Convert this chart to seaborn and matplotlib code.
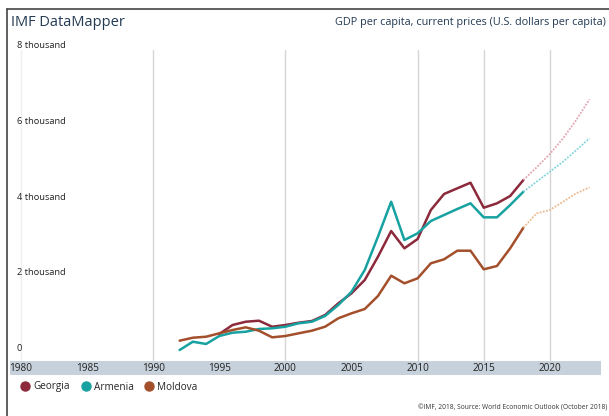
import pandas as pd
import matplotlib.pyplot as plt
import seaborn as sns
from matplotlib.lines import Line2D

years_ge = list(range(1995, 2024))
georgia = [502, 739, 826, 853, 694, 739, 800, 845, 1003, 1312, 1576, 1927, 2542, 3221,
           2764, 3010, 3775, 4198, 4348, 4496, 3836, 3952, 4145, 4567,
           4902, 5254, 5668, 6151, 6698]
years_am = list(range(1992, 2024))
armenia = [79, 298, 238, 449, 536, 562, 634, 652, 694, 784, 826, 977, 1267, 1618, 2191,
           3070, 3994, 2983, 3160, 3485, 3643, 3802, 3952, 3582, 3582, 3907, 4258,
           4522, 4786, 5050, 5359, 5668]
years_md = list(range(1992, 2024))
moldova = [325, 404, 430, 520, 607, 678, 589, 414, 449, 520, 589, 694, 916, 1048, 1162,
           1505, 2041, 1840, 1972, 2368, 2474, 2701, 2701, 2210, 2297, 2764, 3308,
           3688, 3775, 3994, 4216, 4374]
last_actual = 2018

countries = ['Georgia', 'Armenia', 'Moldova']
colors = {'Georgia': '#8c2a3c', 'Armenia': '#17a2a1', 'Moldova': '#a44f2b'}
proj_colors = {'Georgia': '#e3a6b0', 'Armenia': '#86d3dc', 'Moldova': '#eabb93'}

y_ticks = [0, 2000, 4000, 6000, 8000]
y_labels = ['0', '2 thousand', '4 thousand', '6 thousand', '8 thousand']
x_ticks = [1980, 1985, 1990, 1995, 2000, 2005, 2010, 2015, 2020]
grid_years = [1990, 2000, 2010, 2015, 2020]

# long table
frames = []
for name, yrs, vals in [('Georgia', years_ge, georgia), ('Armenia', years_am, armenia),
                        ('Moldova', years_md, moldova)]:
    frames.append(pd.DataFrame({'country': name, 'year': yrs, 'value': vals}))
df = pd.concat(frames, ignore_index=True)
actual = df[df['year'] <= last_actual]
proj = df[df['year'] >= last_actual]

sns.set_style('white')
plt.rcParams['font.family'] = ['Open Sans', 'DejaVu Sans']

W, H = 609, 416
fig = plt.figure(figsize=(W / 100, H / 100), dpi=100)
fig.patch.set_facecolor('white')

ax = fig.add_axes([10 / W, 55 / H, 591 / W, 311 / H])
ax.set_xlim(1979.17, 2023.87)
ax.set_ylim(-211, 8000)

# vertical gridlines
ax.axvline(1980, color='#efefef', lw=1, zorder=0)
for g in grid_years:
    ax.axvline(g, color='#d6d6d6', lw=1, zorder=0)

sns.lineplot(data=actual, x='year', y='value', hue='country', hue_order=countries,
             palette=colors, lw=1.8, estimator=None, legend=False, ax=ax)
sns.lineplot(data=proj, x='year', y='value', hue='country', hue_order=countries,
             palette=proj_colors, lw=1.3, linestyle=(0, (1, 0.8)), estimator=None,
             legend=False, ax=ax)

for s in ax.spines.values():
    s.set_visible(False)
ax.set_xticks([])
ax.set_xlabel('')
ax.set_ylabel('')
ax.set_yticks(y_ticks)
ax.set_yticklabels(y_labels)
ax.tick_params(axis='y', length=0, pad=-5, labelsize=6.7, labelcolor='#222222')
for lbl in ax.get_yticklabels():
    lbl.set_ha('left')
    lbl.set_va('bottom')

# x axis band
ax_band = fig.add_axes([10 / W, 41 / H, 591 / W, 14 / H])
ax_band.set_facecolor('#c6d1db')
ax_band.set_xlim(ax.get_xlim())
ax_band.set_yticks([])
for s in ax_band.spines.values():
    s.set_visible(False)
ax_band.set_xticks(x_ticks)
ax_band.set_xticklabels([str(x) for x in x_ticks])
ax_band.tick_params(axis='x', length=0, pad=-5, labelsize=7.2, labelcolor='#222222')
for lbl in ax_band.get_xticklabels():
    lbl.set_va('center')

# legend
handles = [Line2D([], [], marker='o', ls='', color=colors[c], markersize=6.5, label=c)
           for c in countries]
fig.legend(handles=handles, loc='center left', bbox_to_anchor=(19 / W, 1 - 387 / H),
           ncol=3, frameon=False, fontsize=7.2, handletextpad=0.2, columnspacing=1.0,
           handlelength=1.2, borderaxespad=0, borderpad=0)

# titles and source
fig.text(11 / W, 1 - 22 / H, 'IMF DataMapper', fontsize=10.5, color='#243b53',
         ha='left', va='center')
fig.text(606 / W, 1 - 22 / H, 'GDP per capita, current prices (U.S. dollars per capita)',
         fontsize=7.8, color='#243b53', ha='right', va='center')
fig.text(607 / W, 1 - 408 / H, '©IMF, 2018, Source: World Economic Outlook (October 2018)',
         fontsize=4.8, color='#333333', ha='right', va='center')

# frame lines of the screenshot
fig.add_artist(Line2D([7 / W, 7 / W], [0, 1 - 9 / H], transform=fig.transFigure,
                      color='#444444', lw=1.2))
fig.add_artist(Line2D([7 / W, 1], [1 - 9 / H, 1 - 9 / H], transform=fig.transFigure,
                      color='#444444', lw=1.2))

fig.savefig('out.png', dpi=100)
